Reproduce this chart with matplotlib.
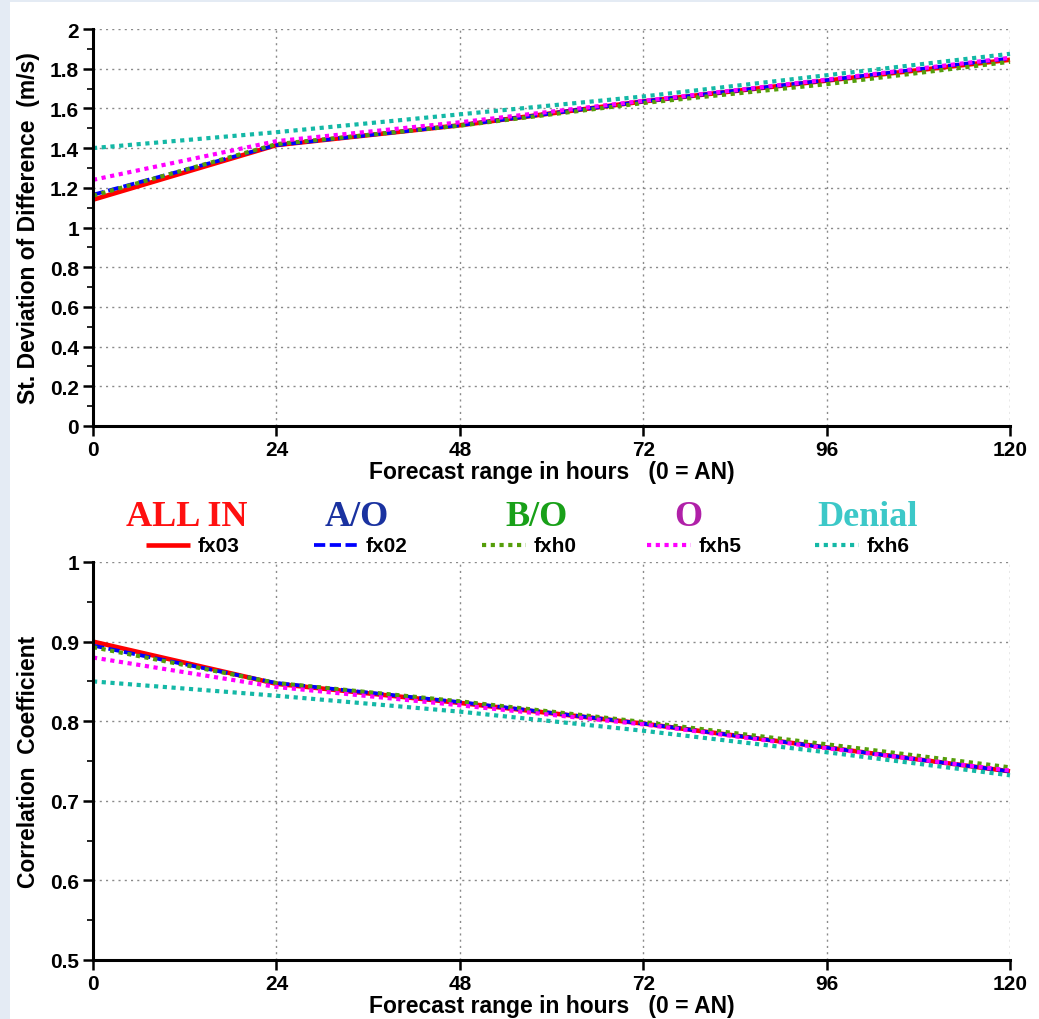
import matplotlib
matplotlib.use("Agg")
import matplotlib.pyplot as plt
from matplotlib.ticker import MultipleLocator
from matplotlib.lines import Line2D
from matplotlib.patches import Rectangle

hours = [0, 24, 48, 72, 96, 120]
x_ticks = [0, 24, 48, 72, 96, 120]

experiments = ["fx03", "fx02", "fxh0", "fxh5", "fxh6"]
group_names = ["ALL IN", "A/O", "B/O", "O", "Denial"]

std_fx03 = [1.14, 1.415, 1.515, 1.635, 1.740, 1.845]
std_fx02 = [1.165, 1.415, 1.515, 1.635, 1.742, 1.852]
std_fxh0 = [1.16, 1.42, 1.513, 1.627, 1.722, 1.835]
std_fxh5 = [1.24, 1.435, 1.530, 1.638, 1.745, 1.855]
std_fxh6 = [1.40, 1.480, 1.570, 1.660, 1.767, 1.875]

cor_fx03 = [0.900, 0.847, 0.823, 0.797, 0.767, 0.737]
cor_fx02 = [0.895, 0.848, 0.824, 0.797, 0.767, 0.737]
cor_fxh0 = [0.893, 0.848, 0.825, 0.799, 0.771, 0.742]
cor_fxh5 = [0.880, 0.843, 0.820, 0.796, 0.766, 0.738]
cor_fxh6 = [0.850, 0.832, 0.812, 0.788, 0.761, 0.732]

std_series = [std_fx03, std_fx02, std_fxh0, std_fxh5, std_fxh6]
cor_series = [cor_fx03, cor_fx02, cor_fxh0, cor_fxh5, cor_fxh6]

line_colors = ["#ff0000", "#0000ff", "#559e0a", "#ff00ff", "#14b8a6"]
line_styles = ["-", (0, (3, 1.2)), (0, (1, 1.1)), (0, (1, 1.1)), (0, (1, 1.1))]
line_widths = [3.3, 2.7, 3.0, 3.0, 3.0]
title_colors = ["#ff1010", "#1a32a0", "#18a018", "#b020a8", "#3cc8c8"]

W, H = 1039, 1020
fig = plt.figure(figsize=(W / 100, H / 100), dpi=100)
fig.patch.set_facecolor("#e4ebf4")
fig.patches.append(Rectangle((10 / W, 0), 1 - 10 / W, 1 - 3 / H,
                             transform=fig.transFigure, facecolor="white",
                             edgecolor="none", zorder=-10))

def ax_rect(l, t, r, b):
    return [l / W, 1 - b / H, (r - l) / W, (b - t) / H]

ax1 = fig.add_axes(ax_rect(93, 30, 1010, 427))
ax2 = fig.add_axes(ax_rect(93, 563, 1010, 961))

TICK_FS = 15
LAB_FS = 16.5
lab_font = dict(family="Liberation Sans", weight="bold", size=LAB_FS)

def style(ax, ylim, major, minor, ylabel):
    ax.set_facecolor("none")
    ax.set_xlim(0, 120)
    ax.set_ylim(*ylim)
    ax.set_xticks(x_ticks)
    ax.yaxis.set_major_locator(MultipleLocator(major))
    ax.yaxis.set_minor_locator(MultipleLocator(minor))
    ax.yaxis.set_major_formatter(plt.FuncFormatter(lambda v, p: f"{v:g}"))
    ax.grid(True, which="major", color="#8a8a8a", linestyle=(0, (1.5, 3)), linewidth=1.0)
    for s in ["top", "right"]:
        ax.spines[s].set_visible(False)
    for s in ["left", "bottom"]:
        ax.spines[s].set_linewidth(2.2)
        ax.spines[s].set_color("black")
    ax.tick_params(axis="both", which="major", direction="out", length=7, width=1.8, pad=3)
    ax.tick_params(axis="y", which="minor", direction="out", length=4, width=1.2)
    ax.tick_params(axis="x", which="minor", bottom=False)
    for lbl in ax.get_xticklabels() + ax.get_yticklabels():
        lbl.set_fontfamily("Liberation Sans")
        lbl.set_fontweight("bold")
        lbl.set_fontsize(TICK_FS)
    ax.set_xlabel("Forecast range in hours   (0 = AN)", labelpad=1, **lab_font)
    ax.set_ylabel(ylabel, labelpad=7, **lab_font)

for series, ax in [(std_series, ax1), (cor_series, ax2)]:
    for vals, c, ls, lw in zip(series, line_colors, line_styles, line_widths):
        ax.plot(hours, vals, color=c, linestyle=ls, linewidth=lw,
                solid_capstyle="butt", dash_capstyle="butt", clip_on=False)

style(ax1, (0, 2), 0.2, 0.1, "St. Deviation of Difference  (m/s)")
style(ax2, (0.5, 1), 0.1, 0.05, "Correlation  Coefficient")

# legend block
title_x = [187, 357, 537, 688, 868]
line_x0 = [146, 314, 482, 647, 815]
for i in range(5):
    fig.text(title_x[i] / W, 1 - 517 / H, group_names[i], color=title_colors[i],
             family="Liberation Serif", weight="bold", size=26,
             ha="center", va="center")
    x0 = line_x0[i] / W
    x1 = (line_x0[i] + 44) / W
    yl = 1 - 546 / H
    fig.lines.append(Line2D([x0, x1], [yl, yl], transform=fig.transFigure,
                            color=line_colors[i], linestyle=line_styles[i],
                            linewidth=line_widths[i], solid_capstyle="butt",
                            dash_capstyle="butt"))
    fig.text((line_x0[i] + 52) / W, yl, experiments[i], color="black",
             family="Liberation Sans", weight="bold", size=TICK_FS,
             ha="left", va="center")

fig.savefig("out.png", dpi=100, facecolor=fig.get_facecolor())
